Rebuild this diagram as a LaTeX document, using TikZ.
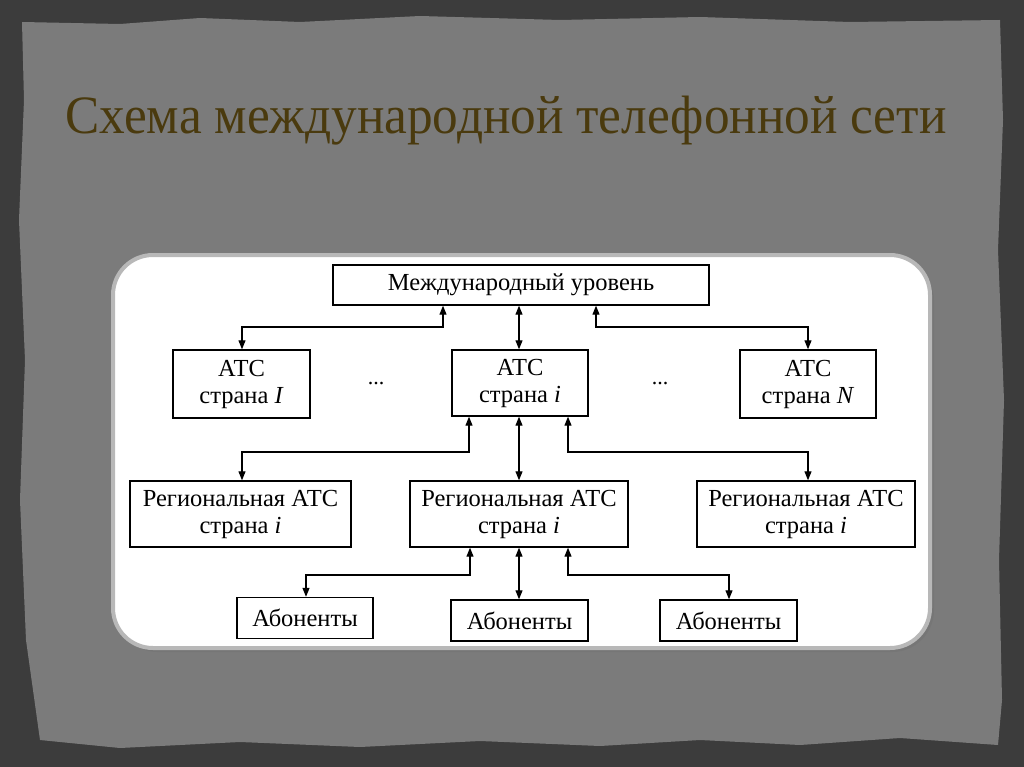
\documentclass[tikz,border=0pt]{standalone}
\usepackage{fontspec}
\setmainfont{Liberation Serif}
\newfontfamily\titlefont[FakeStretch=0.95]{Liberation Serif}
\usetikzlibrary{arrows.meta,shadows}
\definecolor{outerbg}{HTML}{3C3C3C}
\definecolor{paper}{HTML}{7B7B7B}
\definecolor{titlecol}{HTML}{4A3A0E}
\definecolor{panelrim}{HTML}{B8B8B8}
\tikzset{
  box/.style={draw=black, line width=1.4pt, fill=white, inner sep=0pt, align=center, font=\fontsize{24.5}{27}\selectfont},
  link/.style={draw=black, line width=1.1pt, -{Triangle[length=9pt,width=7pt]}},
  dlink/.style={draw=black, line width=1.1pt, {Triangle[length=9pt,width=7pt]}-{Triangle[length=9pt,width=7pt]}},
}
\begin{document}
\begin{tikzpicture}[x=1pt,y=-1pt]
\useasboundingbox (0,0) rectangle (1024,767);
\fill[outerbg] (0,0) rectangle (1024,767);
% torn paper
\fill[paper] (22,22) -- (120,24) -- (200,18) -- (300,22) -- (420,16) -- (560,20) -- (700,17) -- (850,22) -- (1000,20)
  -- (1003,120) -- (998,250) -- (1004,400) -- (999,560) -- (1002,700) -- (998,745)
  -- (900,738) -- (800,745) -- (700,740) -- (600,746) -- (480,741) -- (360,747) -- (240,742) -- (120,748) -- (40,740)
  -- (26,640) -- (20,500) -- (25,360) -- (19,220) -- (24,100) -- cycle;
% title
\node[text=titlecol, font=\titlefont\fontsize{54}{60}\selectfont] (title) at (506,121) {Схема международной телефонной сети};
% panel
\fill[black!55, opacity=0.6, rounded corners=42pt] (116,259) rectangle (934,652);
\draw[panelrim, line width=4pt, fill=white, rounded corners=40pt] (113,255) rectangle (930,648);
% nodes
\node[box, minimum width=376pt, minimum height=40pt] (intl) at (521,285) {Международный уровень};
\node[box, minimum width=137pt, minimum height=68pt] (a1) at (241.5,384) {АТС\\страна \textit{I}};
\node[box, minimum width=136pt, minimum height=66pt] (ai) at (520,383) {АТС\\страна \textit{i}};
\node[box, minimum width=136pt, minimum height=68pt] (aN) at (808,384) {АТС\\страна \textit{N}};
\node[font=\fontsize{22}{24}\selectfont] (d1) at (376,384) {...};
\node[font=\fontsize{22}{24}\selectfont] (d2) at (660,384) {...};
\node[box, minimum width=221pt, minimum height=66pt] (r1) at (240.5,514) {Региональная АТС\\страна \textit{i}};
\node[box, minimum width=218pt, minimum height=66pt] (ri) at (519,514) {Региональная АТС\\страна \textit{i}};
\node[box, minimum width=218pt, minimum height=66pt] (rN) at (806,514) {Региональная АТС\\страна \textit{i}};
\node[box, minimum width=136pt, minimum height=41pt] (b1) at (305,618) {Абоненты};
\node[box, minimum width=137pt, minimum height=41pt] (b2) at (519.5,620.5) {Абоненты};
\node[box, minimum width=137pt, minimum height=41pt] (b3) at (728.5,620.5) {Абоненты};
% coordinates for bends
\coordinate (c1a) at (443,327); \coordinate (c1b) at (242,327);
\coordinate (c2a) at (596,327); \coordinate (c2b) at (808,327);
\coordinate (c3a) at (469,452); \coordinate (c3b) at (242,452);
\coordinate (c4a) at (568,452); \coordinate (c4b) at (808,452);
\coordinate (c5a) at (470,575); \coordinate (c5b) at (306,575);
\coordinate (c6a) at (568,575); \coordinate (c6b) at (729,575);
% connectors
\draw[dlink] (intl.south -| c1a) -- (c1a) -- (c1b) -- (a1.north -| c1b);
\draw[dlink] (intl.south -| 519,0) -- (ai.north -| 519,0);
\draw[dlink] (intl.south -| c2a) -- (c2a) -- (c2b) -- (aN.north -| c2b);
\draw[dlink] (ai.south -| c3a) -- (c3a) -- (c3b) -- (r1.north -| c3b);
\draw[dlink] (ai.south -| 519,0) -- (ri.north -| 519,0);
\draw[dlink] (ai.south -| c4a) -- (c4a) -- (c4b) -- (rN.north -| c4b);
\draw[dlink] (ri.south -| c5a) -- (c5a) -- (c5b) -- (b1.north -| c5b);
\draw[dlink] (ri.south -| 519,0) -- (b2.north -| 519,0);
\draw[dlink] (ri.south -| c6a) -- (c6a) -- (c6b) -- (b3.north -| c6b);
\end{tikzpicture}
\end{document}
